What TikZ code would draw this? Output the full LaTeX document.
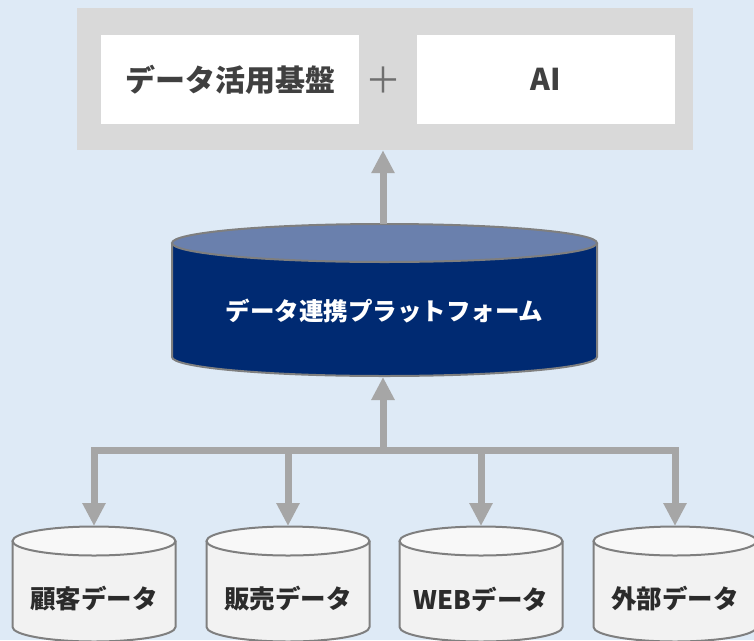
\documentclass[tikz,border=0pt]{standalone}
\usepackage{fontspec}
\usetikzlibrary{arrows.meta}
\newfontfamily\jp{Noto Sans CJK JP}
\definecolor{bgblue}{HTML}{DEEAF6}
\definecolor{boxgray}{HTML}{D9D9D9}
\definecolor{arrgray}{HTML}{A6A6A6}
\definecolor{navy}{HTML}{002A72}
\definecolor{navytop}{HTML}{6A80AD}
\definecolor{rimgray}{HTML}{7F7F7F}
\definecolor{plusgray}{HTML}{6F6F6F}
\definecolor{txtgray}{HTML}{404040}
\definecolor{txtdark}{HTML}{2B2B2B}
\definecolor{cylbody}{HTML}{F2F2F2}
\definecolor{cyltop}{HTML}{F8F8F8}
\begin{document}
\begin{tikzpicture}[x=1pt,y=-1pt,
  arr/.style={draw=arrgray, line width=7pt, -{Triangle[width=22pt,length=23pt]}},
  whitebox/.style={fill=white, minimum width=258pt, minimum height=89pt, inner sep=0pt,
    text=txtgray, font=\jp\bfseries\fontsize{30}{32}\selectfont},
  cyllabel/.style={text=txtdark, font=\jp\bfseries\fontsize{25.5}{28}\selectfont, inner sep=0pt}]
\fill[bgblue] (0,0) rectangle (754,640);
\useasboundingbox (0,0) rectangle (754,640);
% top box
\node[fill=boxgray, minimum width=616pt, minimum height=142pt, inner sep=0pt] (outer) at (385,79) {};
\node[whitebox] (dk) at (230,79.5) {データ活用基盤};
\node[whitebox] (ai) at (545.5,79.5) {AI};
\node[text=plusgray, font=\jp\fontsize{36}{38}\selectfont, inner sep=0pt] (plus) at (383,80) {＋};
% platform cylinder
\path[fill=navy, draw=rimgray, line width=2pt] (172,243) -- (172,357)
  arc[start angle=180, end angle=0, x radius=212.5, y radius=19] -- (597,243);
\path[fill=navytop, draw=rimgray, line width=2pt] (384.5,243) ellipse [x radius=212.5, y radius=19];
\node[text=white, font=\jp\bfseries\fontsize{24.5}{26}\selectfont, inner sep=0pt] (plat) at (384.5,311) {データ連携プラットフォーム};
\coordinate (platT) at (383,224);
\coordinate (platB) at (383,377);
\coordinate (junc) at (383,450);
% source cylinders
\foreach \cx/\lab/\nm in {94/顧客データ/c1, 288/販売データ/c2, 481/WEBデータ/c3, 675/外部データ/c4}{
  \path[fill=cylbody, draw=rimgray, line width=2pt] (\cx-81.5,541) -- (\cx-81.5,627)
    arc[start angle=180, end angle=0, x radius=81.5, y radius=14.5] -- (\cx+81.5,541);
  \path[fill=cyltop, draw=rimgray, line width=2pt] (\cx,541) ellipse [x radius=81.5, y radius=14.5];
  \node[cyllabel] (\nm) at (\cx,599) {\lab};
  \coordinate (\nm top) at (\cx,526);
}
% connectors
\draw[arr] (platT) -- (platT |- outer.south);
\draw[arr] (junc) -- (platB);
\foreach \nm in {c1,c2,c3,c4}{
  \draw[arr] (junc) -| (\nm top);
}
\end{tikzpicture}
\end{document}
